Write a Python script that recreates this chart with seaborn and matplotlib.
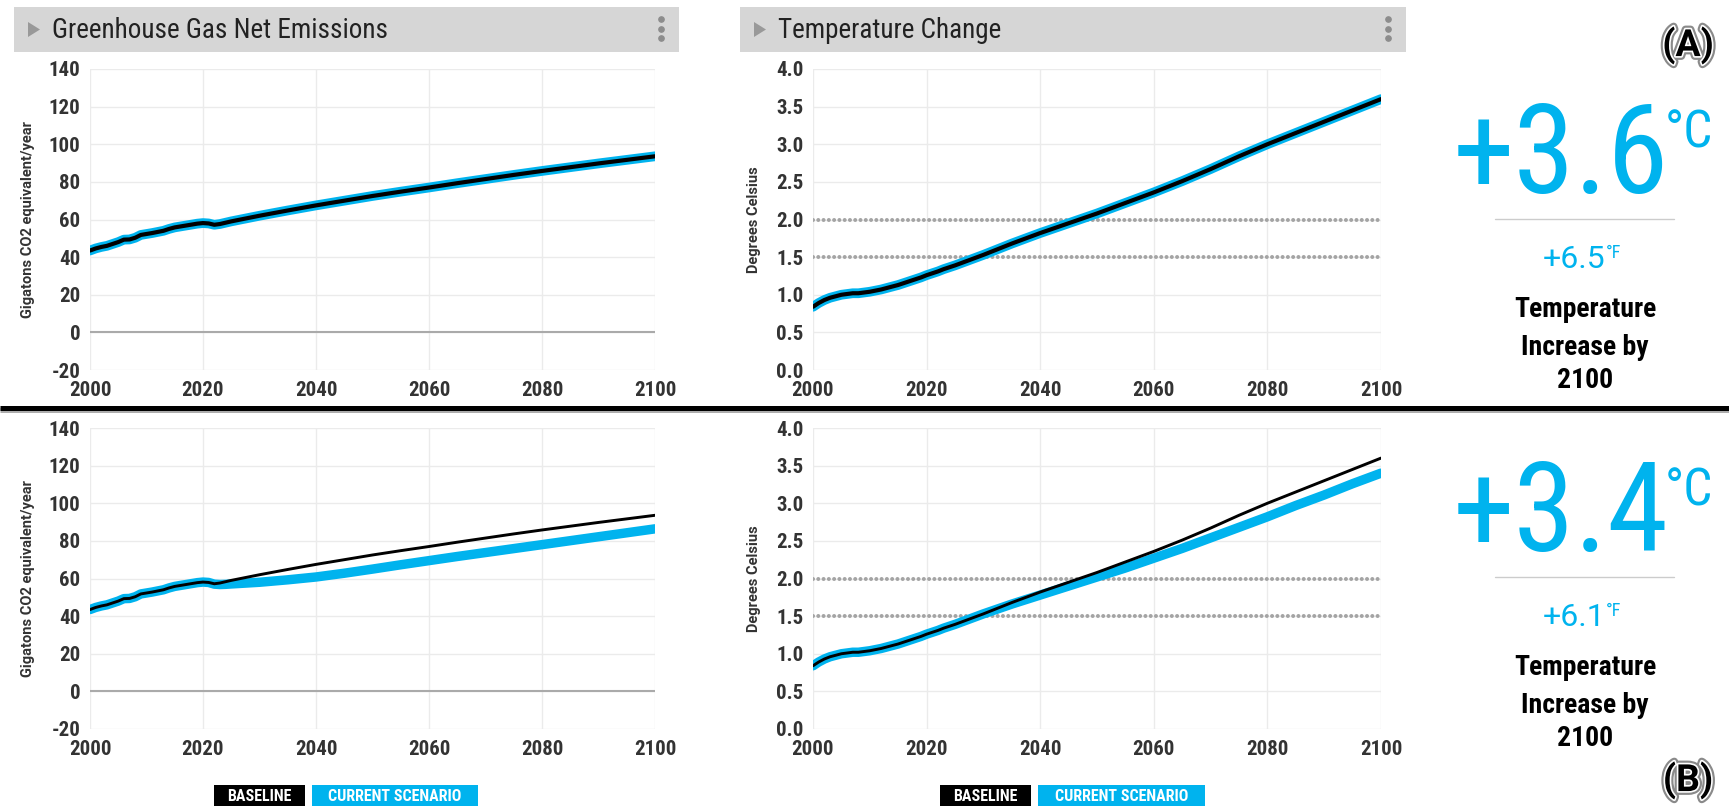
import matplotlib
matplotlib.use("Agg")
import matplotlib.pyplot as plt
import matplotlib.patheffects as pe
from matplotlib import font_manager
from matplotlib.patches import Rectangle, Polygon
from matplotlib.lines import Line2D
import pandas as pd
import seaborn as sns

# ---------------------------------------------------------------- data
years = [2000, 2001, 2002, 2003, 2004, 2005, 2006, 2007, 2008, 2009,
         2010, 2011, 2012, 2013, 2014, 2015, 2016, 2017, 2018, 2019,
         2020, 2021, 2022, 2023, 2024, 2025,
         2030, 2035, 2040, 2045, 2050, 2055, 2060, 2065, 2070, 2075,
         2080, 2085, 2090, 2095, 2100]

baseline_emissions = [43.5, 44.6, 45.4, 46.0, 47.0, 48.0, 49.3, 49.4, 50.3, 51.8,
                      52.3, 52.8, 53.4, 54.0, 55.0, 55.8, 56.3, 56.8, 57.3, 57.8,
                      58.1, 57.9, 57.2, 57.6, 58.3, 59.0,
                      62.0, 64.8, 67.5, 70.0, 72.5, 74.8, 77.0, 79.3, 81.5, 83.7,
                      85.8, 87.8, 89.8, 91.7, 93.6]

scenario_b_emissions = [43.5, 44.6, 45.4, 46.0, 47.0, 48.0, 49.3, 49.4, 50.3, 51.8,
                        52.3, 52.8, 53.4, 54.0, 55.0, 55.8, 56.3, 56.8, 57.3, 57.8,
                        58.1, 57.9, 57.0, 56.8, 56.9, 57.1,
                        58.0, 59.3, 60.8, 62.8, 65.0, 67.3, 69.5, 71.7, 73.8, 75.9,
                        78.0, 80.1, 82.2, 84.3, 86.4]

baseline_temperature = [0.84, 0.89, 0.93, 0.96, 0.98, 1.00, 1.01, 1.02, 1.02, 1.03,
                        1.04, 1.055, 1.07, 1.09, 1.11, 1.13, 1.155, 1.18, 1.205, 1.23,
                        1.26, 1.285, 1.31, 1.34, 1.365, 1.39,
                        1.53, 1.68, 1.82, 1.95, 2.08, 2.22, 2.36, 2.51, 2.67, 2.84,
                        3.00, 3.15, 3.30, 3.45, 3.60]

scenario_b_temperature = [0.84, 0.89, 0.93, 0.96, 0.98, 1.00, 1.01, 1.02, 1.02, 1.03,
                          1.04, 1.055, 1.07, 1.09, 1.11, 1.13, 1.155, 1.18, 1.205, 1.23,
                          1.26, 1.285, 1.31, 1.34, 1.365, 1.39,
                          1.53, 1.66, 1.78, 1.90, 2.02, 2.14, 2.27, 2.40, 2.54, 2.68,
                          2.82, 2.97, 3.11, 3.26, 3.40]

# scenario A leaves both quantities on the baseline path
scenario_a_emissions = baseline_emissions
scenario_a_temperature = baseline_temperature

emission_ticks = [-20, 0, 20, 40, 60, 80, 100, 120, 140]
temperature_ticks = [0.0, 0.5, 1.0, 1.5, 2.0, 2.5, 3.0, 3.5, 4.0]
year_ticks = [2000, 2020, 2040, 2060, 2080, 2100]
temperature_targets = [1.5, 2.0]

panel_labels = ["(A)", "(B)"]
increase_c = ["+3.6", "+3.4"]
increase_f = ["+6.5", "+6.1"]
increase_caption = ["Temperature", "Increase by", "2100"]
chart_titles = ["Greenhouse Gas Net Emissions", "Temperature Change"]
legend_labels = ["BASELINE", "CURRENT SCENARIO"]

# ---------------------------------------------------------------- style
sns.set_theme(style="white")
font_names = {f.name for f in font_manager.fontManager.ttflist}
COND = next((n for n in ("Roboto Condensed", "Liberation Sans Narrow", "Roboto")
             if n in font_names), "DejaVu Sans")
SANS = next((n for n in ("Roboto", "Liberation Sans") if n in font_names), "DejaVu Sans")
plt.rcParams["font.family"] = [SANS, "DejaVu Sans"]

CYAN = "#00B3EE"
TICK = "#333333"
W, H = 1729, 806

fig = plt.figure(figsize=(W / 100, H / 100), dpi=100)
fig.patch.set_facecolor("white")


def fx(x):
    return x / W


def fy(y):
    return 1 - y / H


def make_axes(x0, x1, y0, y1):
    return fig.add_axes([fx(x0), fy(y1), (x1 - x0) / W, (y1 - y0) / H])


def style_axes(ax, yticks, ylabel, fmt, label_x):
    ax.set_xlim(2000, 2100)
    ax.set_ylim(yticks[0], yticks[-1])
    ax.set_xticks(year_ticks)
    ax.set_yticks(yticks)
    ax.set_xticklabels([str(t) for t in year_ticks])
    ax.set_yticklabels([fmt(t) for t in yticks])
    for lab in ax.get_xticklabels() + ax.get_yticklabels():
        lab.set_fontfamily(COND)
        lab.set_fontweight("bold")
        lab.set_fontsize(15)
        lab.set_color(TICK)
    ax.tick_params(axis="both", length=0)
    ax.tick_params(axis="x", pad=8)
    ax.tick_params(axis="y", pad=7)
    ax.grid(True, color="#ebebeb", linewidth=1.0)
    ax.set_axisbelow(True)
    for sp in ax.spines.values():
        sp.set_visible(False)
    ax.set_xlabel("")
    ax.set_ylabel(ylabel, fontsize=10.5, fontweight="bold", color=TICK, family=SANS)
    ax.yaxis.set_label_coords(label_x, 0.5)


def draw_pair(ax, base, scen, scen_lw, base_lw):
    df = pd.DataFrame({"year": years, "baseline": base, "scenario": scen})
    sns.lineplot(data=df, x="year", y="scenario", ax=ax, color=CYAN,
                 linewidth=scen_lw, solid_joinstyle="round", zorder=3)
    sns.lineplot(data=df, x="year", y="baseline", ax=ax, color="black",
                 linewidth=base_lw, solid_joinstyle="round", zorder=4)


rows = [
    dict(top=69, bot=370, em_s=scenario_a_emissions, t_s=scenario_a_temperature,
         scen_lw=7.0, base_lw=3.0),
    dict(top=428, bot=729, em_s=scenario_b_emissions, t_s=scenario_b_temperature,
         scen_lw=6.8, base_lw=2.1),
]

for i, r in enumerate(rows):
    # emissions
    ax1 = make_axes(90, 655, r["top"], r["bot"])
    ax1.axhline(0, color="#aaaaaa", linewidth=1.5, zorder=2)
    draw_pair(ax1, baseline_emissions, r["em_s"], r["scen_lw"], r["base_lw"])
    style_axes(ax1, emission_ticks, "Gigatons CO2 equivalent/year",
               lambda t: f"{t:d}", -0.097)

    # temperature
    ax2 = make_axes(813, 1381, r["top"], r["bot"])
    for lvl in temperature_targets:
        ax2.axhline(lvl, color="#a4a4a4", linewidth=2.9,
                    linestyle=(0, (0.01, 1.3)), dash_capstyle="round", zorder=2)
    draw_pair(ax2, baseline_temperature, r["t_s"], r["scen_lw"], r["base_lw"])
    style_axes(ax2, temperature_ticks, "Degrees Celsius",
               lambda t: f"{t:.1f}", -0.0915)

    # headline numbers
    dy = 358 * i
    fig.text(fx(1561), fy(193 + dy), increase_c[i], color=CYAN, fontsize=89,
             family=COND, ha="center", va="baseline")
    fig.text(fx(1665), fy(147 + dy), "°C", color=CYAN, fontsize=37,
             family=COND, ha="left", va="baseline")
    fig.add_artist(Line2D([fx(1495), fx(1674)], [fy(219 + dy)] * 2,
                          color="#cccccc", linewidth=1.0,
                          transform=fig.transFigure))
    fig.text(fx(1605), fy(268 + dy), increase_f[i], color=CYAN, fontsize=23,
             family=SANS, ha="right", va="baseline")
    fig.text(fx(1606), fy(258 + dy), "°F", color=CYAN, fontsize=13,
             family=COND, ha="left", va="baseline")
    for line, base_y in zip(increase_caption, (317, 355, 388)):
        fig.text(fx(1585), fy(base_y + dy), line, color="black", fontsize=20,
                 fontweight="bold", family=COND, ha="center", va="baseline")

# panel tags
tag_fx = [pe.Stroke(linewidth=5.5, foreground="#8a8a8a"),
          pe.Stroke(linewidth=2.4, foreground="white"),
          pe.Normal()]
for lab, yc in zip(panel_labels, (45, 780)):
    fig.text(fx(1688), fy(yc), lab, color="black", fontsize=27, fontweight="bold",
             family=SANS, ha="center", va="center", path_effects=tag_fx)

# chart header bars
for title, (x0, x1) in zip(chart_titles, ((14, 679), (740, 1406))):
    fig.add_artist(Rectangle((fx(x0), fy(52)), (x1 - x0) / W, 45 / H,
                             transform=fig.transFigure, facecolor="#d6d6d6",
                             edgecolor="none"))
    tx = x0 + 14
    fig.add_artist(Polygon([(fx(tx), fy(22)), (fx(tx), fy(37)), (fx(tx + 12), fy(29.5))],
                           closed=True, transform=fig.transFigure,
                           facecolor="#999999", edgecolor="none"))
    fig.text(fx(x0 + 38), fy(38.5), title, color="#222222", fontsize=19.5,
             family=COND, ha="left", va="baseline")
    for dot_y in (19, 29, 38):
        fig.add_artist(Line2D([fx(x1 - 18)], [fy(dot_y)], marker="o", markersize=3.8,
                              color="#8c8c8c", linestyle="none",
                              transform=fig.transFigure))

# divider between the two scenarios
fig.add_artist(Line2D([0, 1], [fy(408)] * 2, color="black", linewidth=3.6,
                      transform=fig.transFigure, solid_capstyle="butt",
                      path_effects=[pe.SimpleLineShadow(offset=(0, -1.5),
                                                        shadow_color="#777777",
                                                        alpha=0.6),
                                    pe.Normal()]))

# legends under each bottom chart
for boxes in (((214, 305), (312, 478)), ((940, 1031), (1038, 1205))):
    for (x0, x1), lab, col in zip(boxes, legend_labels, ("black", CYAN)):
        fig.add_artist(Rectangle((fx(x0), 0), (x1 - x0) / W, (806 - 785) / H,
                                 transform=fig.transFigure, facecolor=col,
                                 edgecolor="none"))
        fig.text(fx((x0 + x1) / 2), fy(801), lab, color="white", fontsize=11.5,
                 fontweight="bold", family=COND, ha="center", va="baseline")

fig.savefig("out.png", dpi=100, facecolor="white")
